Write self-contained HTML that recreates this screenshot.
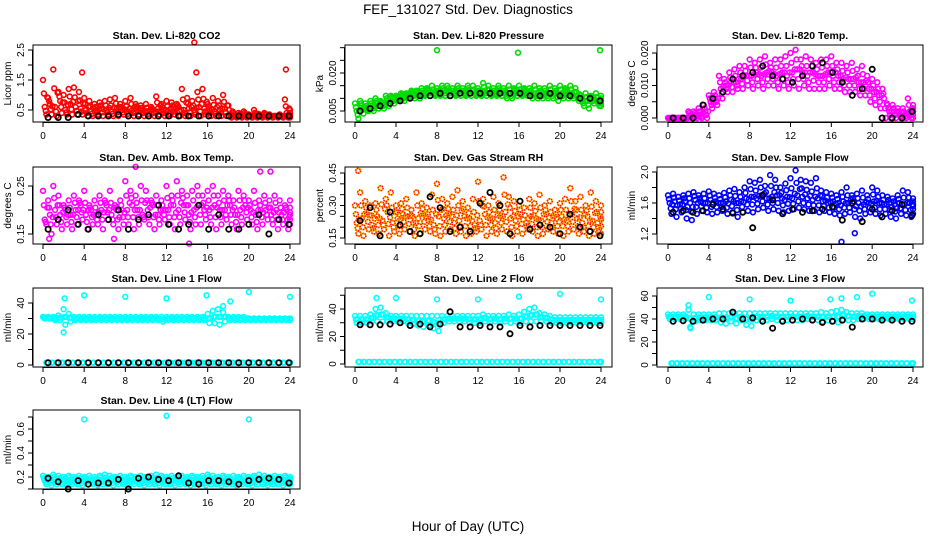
<!DOCTYPE html>
<html><head><meta charset="utf-8"><style>
html,body{margin:0;padding:0;background:#fff;}
svg{display:block;font-family:"Liberation Sans",Arial,sans-serif;}
</style></head><body>
<svg id="c" width="936" height="540" viewBox="0 0 936 540">
<text x="468" y="14" text-anchor="middle" font-size="13.5">FEF_131027  Std. Dev. Diagnostics</text>
<text x="468" y="531" text-anchor="middle" font-size="13.5">Hour of Day (UTC)</text>
</svg>
<script>
// ---- data (estimated from reference) ----
const co2Hi=[1.5,0.9,1.85,1.1,1.0,1.2,1.25,1.1,0.9,0.8,0.7,0.75,0.8,0.85,0.9,0.7,0.8,0.9,0.7,0.65,0.7,0.6,0.95,0.7,0.8,0.75,0.7,1.2,0.9,0.8,1.1,1.2,0.7,0.9,0.8,1.0,0.65,0.4,0.4,0.45,0.35,0.5,0.35,0.4,0.35,0.3,0.35,0.85,0.5];
const co2Mid=[0.6,0.7,0.6,0.8,0.5,0.7,0.6,0.55,0.5,0.45,0.5,0.55,0.5,0.45,0.55,0.5,0.45,0.5,0.55,0.5,0.45,0.5,0.55,0.5,0.45,0.55,0.6,0.5,0.55,0.5,0.6,0.55,0.5,0.45,0.5,0.55,0.35,0.3,0.3,0.35,0.3,0.3,0.3,0.35,0.3,0.3,0.3,0.4,0.3];
const co2Lo=[0.35,0.35,0.3,0.4,0.35,0.35,0.35,0.35,0.3,0.3,0.35,0.3,0.35,0.3,0.3,0.35,0.3,0.3,0.35,0.3,0.3,0.3,0.35,0.3,0.3,0.35,0.3,0.3,0.3,0.35,0.3,0.35,0.3,0.3,0.3,0.3,0.25,0.25,0.25,0.25,0.25,0.25,0.25,0.25,0.25,0.25,0.25,0.25,0.25];
const co2OutH=[14.7,14.9,3.8,23.6];
const co2OutV=[2.75,1.75,1.75,1.85];
const co2Blk=[0.25,0.25,0.25,0.35,0.3,0.3,0.3,0.35,0.3,0.3,0.3,0.3,0.3,0.3,0.3,0.3,0.3,0.3,0.3,0.3,0.3,0.3,0.3,0.3,0.3];

const prHi=[0.008,0.009,0.008,0.009,0.010,0.009,0.011,0.011,0.011,0.012,0.012,0.013,0.013,0.014,0.014,0.015,0.014,0.015,0.015,0.014,0.015,0.014,0.015,0.015,0.014,0.016,0.015,0.014,0.015,0.014,0.015,0.014,0.015,0.014,0.014,0.015,0.014,0.014,0.015,0.014,0.015,0.014,0.015,0.014,0.011,0.012,0.011,0.012,0.011];
const prMid=[0.005,0.007,0.006,0.007,0.008,0.008,0.009,0.010,0.010,0.011,0.011,0.012,0.012,0.012,0.013,0.012,0.012,0.013,0.013,0.012,0.013,0.012,0.013,0.012,0.012,0.013,0.012,0.012,0.013,0.012,0.012,0.013,0.012,0.013,0.012,0.012,0.012,0.012,0.012,0.012,0.012,0.013,0.012,0.011,0.009,0.009,0.010,0.009,0.009];
const prLo=[0.002,0.004,0.005,0.005,0.006,0.006,0.007,0.008,0.009,0.009,0.010,0.010,0.010,0.011,0.011,0.011,0.011,0.011,0.011,0.011,0.011,0.011,0.011,0.011,0.011,0.011,0.011,0.011,0.011,0.010,0.010,0.011,0.011,0.011,0.010,0.010,0.010,0.010,0.010,0.009,0.010,0.010,0.010,0.009,0.007,0.006,0.008,0.007,0.007];
const prOutH=[8,15.9,23.9];
const prOutV=[0.029,0.028,0.029];
const prBlk=[0.005,0.006,0.007,0.008,0.009,0.010,0.011,0.011,0.012,0.011,0.012,0.012,0.012,0.012,0.012,0.012,0.012,0.011,0.011,0.012,0.011,0.011,0.010,0.010,0.009];

const tmHi=[0.0,0.0,0.0,0.0,0.002,0.002,0.003,0.004,0.007,0.008,0.013,0.012,0.014,0.015,0.016,0.016,0.018,0.017,0.018,0.019,0.017,0.018,0.018,0.019,0.020,0.021,0.018,0.019,0.018,0.017,0.018,0.018,0.019,0.017,0.017,0.016,0.017,0.015,0.016,0.013,0.012,0.011,0.009,0.004,0.004,0.003,0.003,0.006,0.004];
const tmMid=[0.0,0.0,0.0,0.0,0.001,0.001,0.001,0.002,0.005,0.006,0.009,0.010,0.011,0.011,0.012,0.013,0.013,0.014,0.013,0.014,0.014,0.013,0.014,0.013,0.014,0.015,0.014,0.013,0.014,0.013,0.013,0.014,0.013,0.013,0.012,0.012,0.012,0.011,0.011,0.009,0.008,0.007,0.006,0.002,0.002,0.001,0.001,0.002,0.002];
const tmLo=[0.0,0.0,0.0,0.0,0.0,0.0,0.0,0.0,0.003,0.004,0.006,0.008,0.008,0.009,0.009,0.010,0.009,0.010,0.009,0.010,0.010,0.009,0.010,0.009,0.010,0.009,0.010,0.009,0.009,0.009,0.009,0.010,0.009,0.009,0.008,0.008,0.008,0.007,0.007,0.005,0.004,0.003,0.0,0.0,0.0,0.0,0.0,0.0,0.0];
const tmOutH=[];
const tmOutV=[];
const tmBlk=[0.0,0.0,0.0,0.004,0.006,0.008,0.012,0.013,0.014,0.016,0.013,0.012,0.011,0.013,0.016,0.017,0.014,0.011,0.007,0.009,0.015,0.0,0.0,0.0,0.002];

const abHi=[0.24,0.22,0.25,0.23,0.21,0.22,0.23,0.22,0.24,0.21,0.22,0.23,0.22,0.24,0.21,0.22,0.26,0.24,0.23,0.25,0.24,0.22,0.23,0.22,0.25,0.23,0.26,0.24,0.23,0.24,0.25,0.23,0.24,0.25,0.23,0.24,0.23,0.22,0.24,0.23,0.22,0.24,0.22,0.23,0.22,0.23,0.22,0.21,0.22];
const abMid=[0.18,0.19,0.20,0.19,0.20,0.19,0.20,0.21,0.19,0.20,0.19,0.20,0.21,0.19,0.20,0.20,0.20,0.21,0.20,0.19,0.20,0.21,0.19,0.20,0.20,0.21,0.20,0.21,0.19,0.20,0.21,0.20,0.20,0.21,0.20,0.20,0.21,0.19,0.20,0.21,0.20,0.19,0.20,0.20,0.19,0.20,0.19,0.20,0.19];
const abLo=[0.17,0.15,0.17,0.16,0.17,0.16,0.17,0.18,0.16,0.17,0.17,0.16,0.18,0.17,0.16,0.17,0.17,0.16,0.17,0.18,0.17,0.16,0.17,0.18,0.17,0.16,0.17,0.18,0.16,0.17,0.17,0.18,0.17,0.16,0.17,0.18,0.17,0.16,0.17,0.18,0.17,0.16,0.17,0.18,0.17,0.16,0.17,0.16,0.17];
const abOutH=[0.6,6.9,14.2,9,21.1,22.1];
const abOutV=[0.14,0.14,0.13,0.29,0.28,0.28];
const abBlk=[0.16,0.18,0.20,0.17,0.16,0.19,0.18,0.20,0.16,0.18,0.19,0.21,0.17,0.16,0.17,0.21,0.16,0.19,0.16,0.16,0.17,0.19,0.15,0.18,0.17];

const rhHi=[0.30,0.36,0.32,0.30,0.31,0.38,0.33,0.36,0.30,0.31,0.33,0.28,0.36,0.31,0.29,0.35,0.40,0.33,0.31,0.34,0.37,0.32,0.29,0.33,0.41,0.33,0.30,0.34,0.31,0.43,0.34,0.32,0.30,0.29,0.33,0.31,0.35,0.30,0.32,0.28,0.31,0.33,0.38,0.32,0.34,0.30,0.36,0.32,0.30];
const rhMid=[0.22,0.24,0.26,0.21,0.25,0.23,0.27,0.22,0.24,0.26,0.25,0.22,0.24,0.26,0.23,0.21,0.25,0.24,0.26,0.22,0.23,0.25,0.24,0.21,0.23,0.26,0.24,0.22,0.25,0.27,0.24,0.23,0.26,0.22,0.25,0.24,0.23,0.26,0.22,0.24,0.25,0.23,0.26,0.24,0.22,0.25,0.23,0.22,0.24];
const rhLo=[0.17,0.16,0.19,0.18,0.17,0.19,0.16,0.18,0.17,0.19,0.18,0.16,0.17,0.19,0.18,0.17,0.16,0.18,0.19,0.17,0.18,0.16,0.17,0.18,0.19,0.16,0.18,0.17,0.19,0.18,0.16,0.18,0.17,0.19,0.18,0.16,0.17,0.19,0.18,0.17,0.16,0.18,0.19,0.17,0.18,0.16,0.17,0.18,0.17];
const rhOutH=[0.3];
const rhOutV=[0.46];
const rhBlk=[0.23,0.29,0.16,0.27,0.21,0.18,0.17,0.34,0.29,0.18,0.20,0.18,0.31,0.36,0.30,0.17,0.32,0.19,0.21,0.20,0.17,0.26,0.20,0.18,0.16];

const sfHi=[1.70,1.72,1.68,1.70,1.72,1.74,1.70,1.72,1.75,1.72,1.70,1.73,1.76,1.78,1.74,1.80,1.88,1.86,1.90,1.82,1.96,1.90,1.80,1.85,1.92,2.02,1.90,1.88,1.86,1.92,1.76,1.74,1.72,1.70,1.74,1.80,1.70,1.72,1.76,1.70,1.80,1.76,1.70,1.68,1.66,1.70,1.76,1.74,1.66];
const sfMid=[1.60,1.62,1.58,1.62,1.60,1.64,1.62,1.60,1.64,1.62,1.60,1.62,1.64,1.60,1.62,1.66,1.68,1.66,1.70,1.66,1.68,1.70,1.66,1.68,1.66,1.70,1.68,1.66,1.64,1.66,1.62,1.60,1.62,1.60,1.62,1.60,1.62,1.60,1.58,1.60,1.62,1.60,1.58,1.60,1.58,1.60,1.58,1.60,1.58];
const sfLo=[1.46,1.42,1.48,1.40,1.38,1.46,1.50,1.48,1.46,1.48,1.50,1.46,1.48,1.42,1.48,1.50,1.48,1.52,1.54,1.50,1.52,1.50,1.48,1.50,1.52,1.54,1.52,1.50,1.50,1.48,1.50,1.48,1.46,1.44,1.46,1.48,1.42,1.40,1.46,1.48,1.46,1.44,1.46,1.42,1.40,1.46,1.44,1.42,1.46];
const sfOutH=[17,18.3];
const sfOutV=[1.10,1.21];
const sfBlk=[1.48,1.5,1.48,1.5,1.58,1.52,1.47,1.48,1.28,1.70,1.64,1.46,1.52,1.48,1.5,1.52,1.55,1.38,1.6,1.36,1.52,1.42,1.5,1.58,1.44];

const l1Hi=[31,31,31,32,36,33,31,31,31,31,31,31,31,31,31,31,31,31,31,31,31,31,31,31,31,31,31,31,31,31,31,31,33,35,36,34,31,31,31,31,30,30,30,30,30,30,30,30,30];
const l1Mid=[30,30,29,29,26,28,29,29,29,29,29,29,29,29,29,29,29,29,29,29,29,29,29,28,29,29,29,29,29,29,29,29,27,27,26,28,29,29,29,29,29,29,29,29,29,29,29,29,29];
const l1Lo=[1.5,1.5,1.5,1.5,1.5,1.5,1.5,1.5,1.5,1.5,1.5,1.5,1.5,1.5,1.5,1.5,1.5,1.5,1.5,1.5,1.5,1.5,1.5,1.5,1.5,1.5,1.5,1.5,1.5,1.5,1.5,1.5,1.5,1.5,1.5,1.5,1.5,1.5,1.5,1.5,1.5,1.5,1.5,1.5,1.5,1.5,1.5,1.5,1.5];
const l1OutH=[2.1,4,8,12,15.9,20,24,2,18.2,17.5];
const l1OutV=[43,45,44,43,45,47,44,21,41,38];
const l1Blk=[1.5,1.5,1.5,1.5,1.5,1.5,1.5,1.5,1.5,1.5,1.5,1.5,1.5,1.5,1.5,1.5,1.5,1.5,1.5,1.5,1.5,1.5,1.5,1.5,1.5];

const l2Hi=[35,35,35,36,40,41,37,35,35,35,35,35,35,35,35,35,35,35,35,35,35,35,35,35,35,36,35,35,35,35,36,35,36,38,40,41,37,36,35,34,34,34,34,34,34,34,34,34,34];
const l2Mid=[30,30,30,31,31,31,31,31,31,31,30,29,28,27,28,26,24,30,31,31,31,31,30,30,30,31,30,31,30,31,30,31,30,31,31,31,31,31,30,30,30,30,30,30,30,30,30,30,30];
const l2Lo=[1.5,1.5,1.5,1.5,1.5,1.5,1.5,1.5,1.5,1.5,1.5,1.5,1.5,1.5,1.5,1.5,1.5,1.5,1.5,1.5,1.5,1.5,1.5,1.5,1.5,1.5,1.5,1.5,1.5,1.5,1.5,1.5,1.5,1.5,1.5,1.5,1.5,1.5,1.5,1.5,1.5,1.5,1.5,1.5,1.5,1.5,1.5,1.5,1.5];
const l2OutH=[2.1,4,8,12,16,20,24];
const l2OutV=[48,48,47,47,49,51,47];
const l2Blk=[28.5,28.5,28.5,29,30,28,29,27,29,38,27,27,28,27,27,22,28,27,28,28,28,28,28,28,28];

const l3Hi=[44,44,44,44,48,44,44,44,44,44,45,45,45,45,45,45,45,45,45,45,45,45,45,45,45,45,45,45,45,45,46,45,46,47,48,46,45,45,45,44,44,44,44,44,44,44,44,44,44];
const l3Mid=[40,40,40,40,33,38,39,39,39,39,37,36,38,36,39,35,34,39,39,39,40,39,39,39,39,39,39,40,39,39,38,39,38,37,39,39,39,40,40,40,40,40,40,40,40,40,40,40,40];
const l3Lo=[1.5,1.5,1.5,1.5,1.5,1.5,1.5,1.5,1.5,1.5,1.5,1.5,1.5,1.5,1.5,1.5,1.5,1.5,1.5,1.5,1.5,1.5,1.5,1.5,1.5,1.5,1.5,1.5,1.5,1.5,1.5,1.5,1.5,1.5,1.5,1.5,1.5,1.5,1.5,1.5,1.5,1.5,1.5,1.5,1.5,1.5,1.5,1.5,1.5];
const l3OutH=[2,4,8,12,15.9,17,18.5,20,23.9,2.2];
const l3OutV=[52,59,57,56,57,58,59,62,56,32];
const l3Blk=[38,38.5,38,39,40,40,46,40,41,38,32,38,39,40,39,37,38,39,33,40,40,39,39,38,38];

const l4Hi=[0.21,0.2,0.22,0.21,0.2,0.21,0.2,0.21,0.2,0.21,0.2,0.21,0.22,0.21,0.2,0.21,0.2,0.21,0.2,0.21,0.2,0.21,0.22,0.21,0.2,0.21,0.2,0.21,0.2,0.21,0.2,0.21,0.22,0.21,0.2,0.21,0.2,0.21,0.2,0.21,0.2,0.21,0.22,0.21,0.2,0.21,0.2,0.21,0.2];
const l4Mid=[0.17,0.17,0.18,0.17,0.17,0.18,0.17,0.17,0.18,0.17,0.17,0.18,0.17,0.17,0.18,0.17,0.17,0.18,0.17,0.17,0.18,0.17,0.17,0.18,0.17,0.17,0.18,0.17,0.17,0.18,0.17,0.17,0.18,0.17,0.17,0.18,0.17,0.17,0.18,0.17,0.17,0.18,0.17,0.17,0.18,0.17,0.17,0.18,0.17];
const l4Lo=[0.14,0.13,0.14,0.14,0.13,0.14,0.14,0.13,0.14,0.14,0.13,0.14,0.14,0.13,0.14,0.14,0.13,0.14,0.14,0.13,0.14,0.14,0.13,0.14,0.14,0.13,0.14,0.14,0.13,0.14,0.14,0.13,0.14,0.14,0.13,0.14,0.14,0.13,0.14,0.14,0.13,0.14,0.14,0.13,0.14,0.14,0.13,0.14,0.14];
const l4OutH=[4,12,20];
const l4OutV=[0.68,0.71,0.68];
const l4Blk=[0.19,0.16,0.10,0.17,0.14,0.15,0.15,0.18,0.10,0.19,0.20,0.18,0.17,0.21,0.15,0.14,0.17,0.17,0.16,0.14,0.17,0.18,0.19,0.18,0.15];

const xTicks=[0,4,8,12,16,20,24];

// ---- layout ----
const NS='http://www.w3.org/2000/svg';
const svg=document.getElementById('c');
const colBox=[[33,300],[345,612],[657,923]];
const colX=[[43,290],[355,601],[668,913]];
const rowBox=[[45,122],[167,244],[288,367],[410,489]];
const panels=[
 {key:'co2',t:'Stan. Dev. Li-820 CO2',yl:'Licor ppm',c:0,r:0,col:'#ff0000',m:[0.5,110,2.5,50],ticks:[0.5,1,1.5,2,2.5],labs:['0.5','1.5','2.5'],d:[co2Hi,co2Mid,co2Lo,co2OutH,co2OutV,co2Blk]},
 {key:'pressure',t:'Stan. Dev. Li-820 Pressure',yl:'kPa',c:1,r:0,col:'#00dd00',m:[0.005,111,0.020,73],ticks:[0.005,0.010,0.015,0.020,0.025,0.030],labs:['0.005','0.020'],d:[prHi,prMid,prLo,prOutH,prOutV,prBlk]},
 {key:'temp',t:'Stan. Dev. Li-820 Temp.',yl:'degrees C',c:2,r:0,col:'#ff00ff',m:[0,118,0.020,53],ticks:[0,0.005,0.010,0.015,0.020],labs:['0.000','0.010','0.020'],d:[tmHi,tmMid,tmLo,tmOutH,tmOutV,tmBlk]},
 {key:'ambbox',t:'Stan. Dev. Amb. Box Temp.',yl:'degrees C',c:0,r:1,col:'#ff00ff',m:[0.15,234,0.25,186],ticks:[0.15,0.20,0.25],labs:['0.15','0.25'],d:[abHi,abMid,abLo,abOutH,abOutV,abBlk]},
 {key:'rh',t:'Stan. Dev. Gas Stream RH',yl:'percent',c:1,r:1,col:'#ffa500',col2:'#ff0000',m:[0.15,238,0.45,173],ticks:[0.15,0.20,0.25,0.30,0.35,0.40,0.45],labs:['0.15','0.30','0.45'],d:[rhHi,rhMid,rhLo,rhOutH,rhOutV,rhBlk]},
 {key:'sample',t:'Stan. Dev. Sample Flow',yl:'ml/min',c:2,r:1,col:'#0000ff',m:[1.2,234,2.0,172],ticks:[1.2,1.4,1.6,1.8,2.0],labs:['1.2','1.6','2.0'],d:[sfHi,sfMid,sfLo,sfOutH,sfOutV,sfBlk]},
 {key:'line1',sep:true,t:'Stan. Dev. Line 1 Flow',yl:'ml/min',c:0,r:2,col:'#00ffff',m:[0,365,40,303],ticks:[0,10,20,30,40],labs:['0','20','40'],d:[l1Hi,l1Mid,l1Lo,l1OutH,l1OutV,l1Blk]},
 {key:'line2',sep:true,t:'Stan. Dev. Line 2 Flow',yl:'ml/min',c:1,r:2,col:'#00ffff',m:[0,364,40,309],ticks:[0,10,20,30,40,50],labs:['0','20','40'],d:[l2Hi,l2Mid,l2Lo,l2OutH,l2OutV,l2Blk]},
 {key:'line3',sep:true,t:'Stan. Dev. Line 3 Flow',yl:'ml/min',c:2,r:2,col:'#00ffff',m:[0,365,60,296],ticks:[0,10,20,30,40,50,60],labs:['0','20','40','60'],d:[l3Hi,l3Mid,l3Lo,l3OutH,l3OutV,l3Blk]},
 {key:'line4',t:'Stan. Dev. Line 4 (LT) Flow',yl:'ml/min',c:0,r:3,col:'#00ffff',m:[0.2,477,0.6,429],ticks:[0.1,0.2,0.3,0.4,0.5,0.6,0.7],labs:['0.2','0.4','0.6'],d:[l4Hi,l4Mid,l4Lo,l4OutH,l4OutV,l4Blk]}
];
function mk(tag,attrs,parent){const e=document.createElementNS(NS,tag);for(const k in attrs)e.setAttribute(k,attrs[k]);(parent||svg).appendChild(e);return e;}
panels.forEach(p=>{
 const [bx0,bx1]=colBox[p.c],[by0,by1]=rowBox[p.r],[hx0,hx1]=colX[p.c];
 const sx=h=>hx0+(hx1-hx0)*h/24;
 const sy=v=>p.m[1]+(v-p.m[0])*(p.m[3]-p.m[1])/(p.m[2]-p.m[0]);
 const g=mk('g',{});
 
 
 const tt=mk('text',{x:(bx0+bx1)/2,y:by0-6,'text-anchor':'middle','font-size':'10.5','font-weight':'bold'},g);
 tt.textContent=p.t;
 
 
 const pts=mk('g',{fill:'none','stroke-width':'1.6'},g);
 
 
 const [hi,mid,lo,oh,ov,blk]=p.d;
 function dot(h,v,color,nm){
  const e=mk('circle',{cx:sx(h).toFixed(1),cy:sy(v).toFixed(1),r:'2.4',stroke:color},pts);
  
  
  if(p.col2){const e2=mk('circle',{cx:sx(h).toFixed(1),cy:sy(v).toFixed(1),r:'2.4',stroke:p.col2,'stroke-dasharray':'1 1.5'},pts);}
 }
 [[hi,0],[mid,0.17],[lo,0.33]].forEach(([arr,off])=>{
  arr.forEach((v,i)=>{let h=i*0.5+off; if(h>24)h=24; dot(h,v,p.col,p.key+'-point');});
 });
 // extra interleaved copies for density
 const extras=p.sep?[[hi,0.09,mid],[mid,0.26,hi],[lo,0.42,lo]]:[[hi,0.09,mid],[mid,0.26,lo],[lo,0.42,hi]];
 extras.forEach(([a,off,b])=>{
  a.forEach((v,i)=>{let h=i*0.5+off; if(h>24)h=24; dot(h,(v+b[i])/2,p.col,p.key+'-point');});
 });
 oh.forEach((h,i)=>dot(h,ov[i],p.col,p.key+'-outlier'));
 blk.forEach((v,i)=>{
  const e=mk('circle',{cx:sx(0.5+i*0.975).toFixed(1),cy:sy(v).toFixed(1),r:'2.6',stroke:'#000','stroke-width':'1.8'},pts);
  
  
 });
 const box=mk('rect',{x:bx0,y:by0,width:bx1-bx0,height:by1-by0,fill:'none',stroke:'#000','stroke-width':'1'},g);
 
 
 const xa=mk('g',{stroke:'#000','stroke-width':'1'},g);
 
 
 mk('line',{x1:sx(0),x2:sx(24),y1:by1+0.5,y2:by1+0.5},xa);
 xTicks.forEach(t=>{
  mk('line',{x1:sx(t),x2:sx(t),y1:by1,y2:by1+5},xa);
  const l=mk('text',{x:sx(t),y:by1+17,'text-anchor':'middle','font-size':'10',stroke:'none',fill:'#000'},xa);
  l.textContent=t;
 });
 const ya=mk('g',{stroke:'#000','stroke-width':'1'},g);
 
 
 const t0=p.ticks[0],t1=p.ticks[p.ticks.length-1];
 mk('line',{x1:bx0-0.5,x2:bx0-0.5,y1:sy(t0),y2:sy(t1)},ya);
 p.ticks.forEach(t=>{mk('line',{x1:bx0-5,x2:bx0,y1:sy(t),y2:sy(t)},ya);});
 p.labs.forEach(s=>{
  const y=sy(parseFloat(s));
  const l=mk('text',{x:bx0-9,y:y,'text-anchor':'middle','font-size':'10',stroke:'none',fill:'#000',transform:`rotate(-90 ${bx0-9} ${y})`},ya);
  l.textContent=s;
 });
 const yt=mk('text',{x:bx0-22,y:(by0+by1)/2,'text-anchor':'middle','font-size':'10',transform:`rotate(-90 ${bx0-22} ${(by0+by1)/2})`},g);
 yt.textContent=p.yl;
 
 
});
</script>
</body></html>
